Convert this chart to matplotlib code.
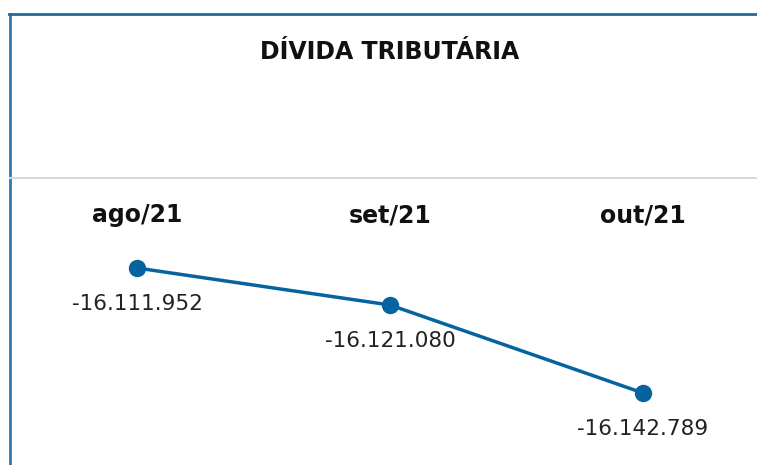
import matplotlib.pyplot as plt
from matplotlib.lines import Line2D
import matplotlib.transforms as mtransforms

meses = ["ago/21", "set/21", "out/21"]
divida = [-16111952, -16121080, -16142789]
rotulos = ["-16.111.952", "-16.121.080", "-16.142.789"]

W, H = 757, 465
cor = "#0563a0"


def main():
    fig = plt.figure(figsize=(W / 100, H / 100), dpi=100)
    fig.patch.set_facecolor("white")
    ax = fig.add_axes([0, 0, 1, 1])
    ax.set_axis_off()

    x = list(range(len(meses)))
    ax.plot(x, divida, color=cor, linewidth=2.5, marker="o", markersize=11.5, zorder=3)

    # pixel mapping: ago at x=137, out at x=643; values linear in y
    px_per_unit = (643 - 137) / 2
    ax.set_xlim(-137 / px_per_unit, (W - 137) / px_per_unit)
    py = (393 - 268) / (divida[0] - divida[2])
    ax.set_ylim(divida[0] - (H - 268) / py, divida[0] + 268 / py)

    for xi, v, r in zip(x, divida, rotulos):
        ax.annotate(r, (xi, v), xytext=(0, -36), textcoords="offset pixels",
                    ha="center", va="center", fontsize=15.5, color="#222222")

    trans = mtransforms.blended_transform_factory(ax.transData, fig.transFigure)
    for xi, m in zip(x, meses):
        ax.text(xi, 1 - 215 / H, m, transform=trans, ha="center", va="center",
                fontsize=17, fontweight="bold", color="#111111")

    fig.text(390 / W, 1 - 52 / H, "DÍVIDA TRIBUTÁRIA", ha="center", va="center",
             fontsize=17, fontweight="bold", color="#111111")

    # frame and separator
    fig.add_artist(Line2D([9.5 / W, 9.5 / W], [0, 1 - 14 / H], transform=fig.transFigure,
                          color="#2a78b4", linewidth=2))
    fig.add_artist(Line2D([9 / W, 1], [1 - 14.5 / H, 1 - 14.5 / H], transform=fig.transFigure,
                          color="#1f6a9e", linewidth=2))
    fig.add_artist(Line2D([10 / W, 1], [1 - 178 / H, 1 - 178 / H], transform=fig.transFigure,
                          color="#d9d9d9", linewidth=1.5))

    plt.savefig("out.png", dpi=100)


main()
